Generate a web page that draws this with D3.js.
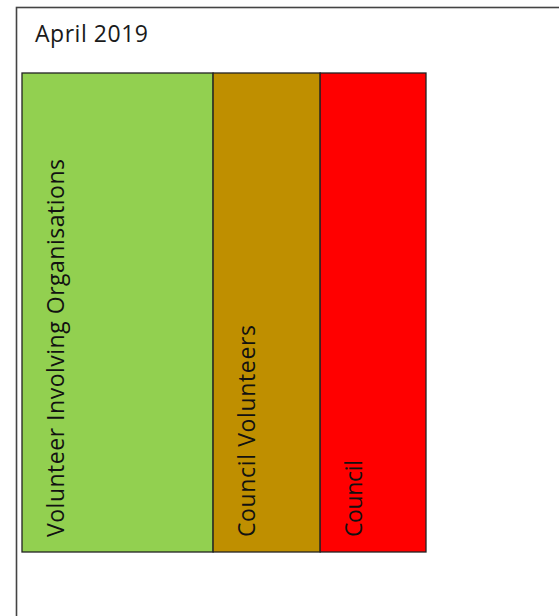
<!DOCTYPE html>
<html>
<head>
<meta charset="utf-8">
<script src="https://cdn.jsdelivr.net/npm/d3@7"></script>
<style>
  body { margin: 0; background: #fff; }
  text { font-family: "Open Sans", "Noto Sans", sans-serif; }
</style>
</head>
<body>
<div id="chart"></div>
<script>
var title = "April 2019";
var categories = ["Volunteer Involving Organisations", "Council Volunteers", "Council"];
var shares = [47.3, 26.5, 26.2];
var colors = ["#92d050", "#bf8f00", "#ff0000"];

var width = 559, height = 616;
var margin = { top: 73, left: 22, right: 133, bottom: 64 };

var svg = d3.select("#chart").append("svg")
  .attr("width", width)
  .attr("height", height);

// outer frame, runs off the right and bottom edges
svg.append("rect")
  .attr("x", 16.5)
  .attr("y", 7.5)
  .attr("width", width)
  .attr("height", height)
  .attr("fill", "none")
  .attr("stroke", "#444")
  .attr("stroke-width", 1.6);

svg.append("text")
  .attr("x", 35)
  .attr("y", 42)
  .attr("textLength", 113)
  .style("font-size", "23px")
  .style("fill", "#1a1a1a")
  .text(title);

var data = categories.map(function (c, i) { return { name: c, value: shares[i], color: colors[i] }; });
var cum = 0;
data.forEach(function (d) { d.x0 = cum; cum += d.value; d.x1 = cum; });

var x = d3.scaleLinear()
  .domain([0, cum])
  .range([margin.left, width - margin.right]);

var y0 = margin.top, y1 = height - margin.bottom;
var labelLen = [378, 212, 77];

var g = svg.selectAll(".seg")
  .data(data)
  .enter().append("g")
  .attr("class", "seg");

g.append("rect")
  .attr("x", d => x(d.x0))
  .attr("y", y0)
  .attr("width", d => x(d.x1) - x(d.x0))
  .attr("height", y1 - y0)
  .attr("fill", d => d.color)
  .attr("stroke", "#222")
  .attr("stroke-width", 1.3);

g.append("text")
  .attr("transform", d => "translate(" + (x(d.x0) + 42) + "," + (y1 - 15) + ") rotate(-90)")
  .attr("textLength", (d, i) => labelLen[i])
  .style("font-size", "23px")
  .style("fill", "#111")
  .text(d => d.name);
</script>
</body>
</html>
